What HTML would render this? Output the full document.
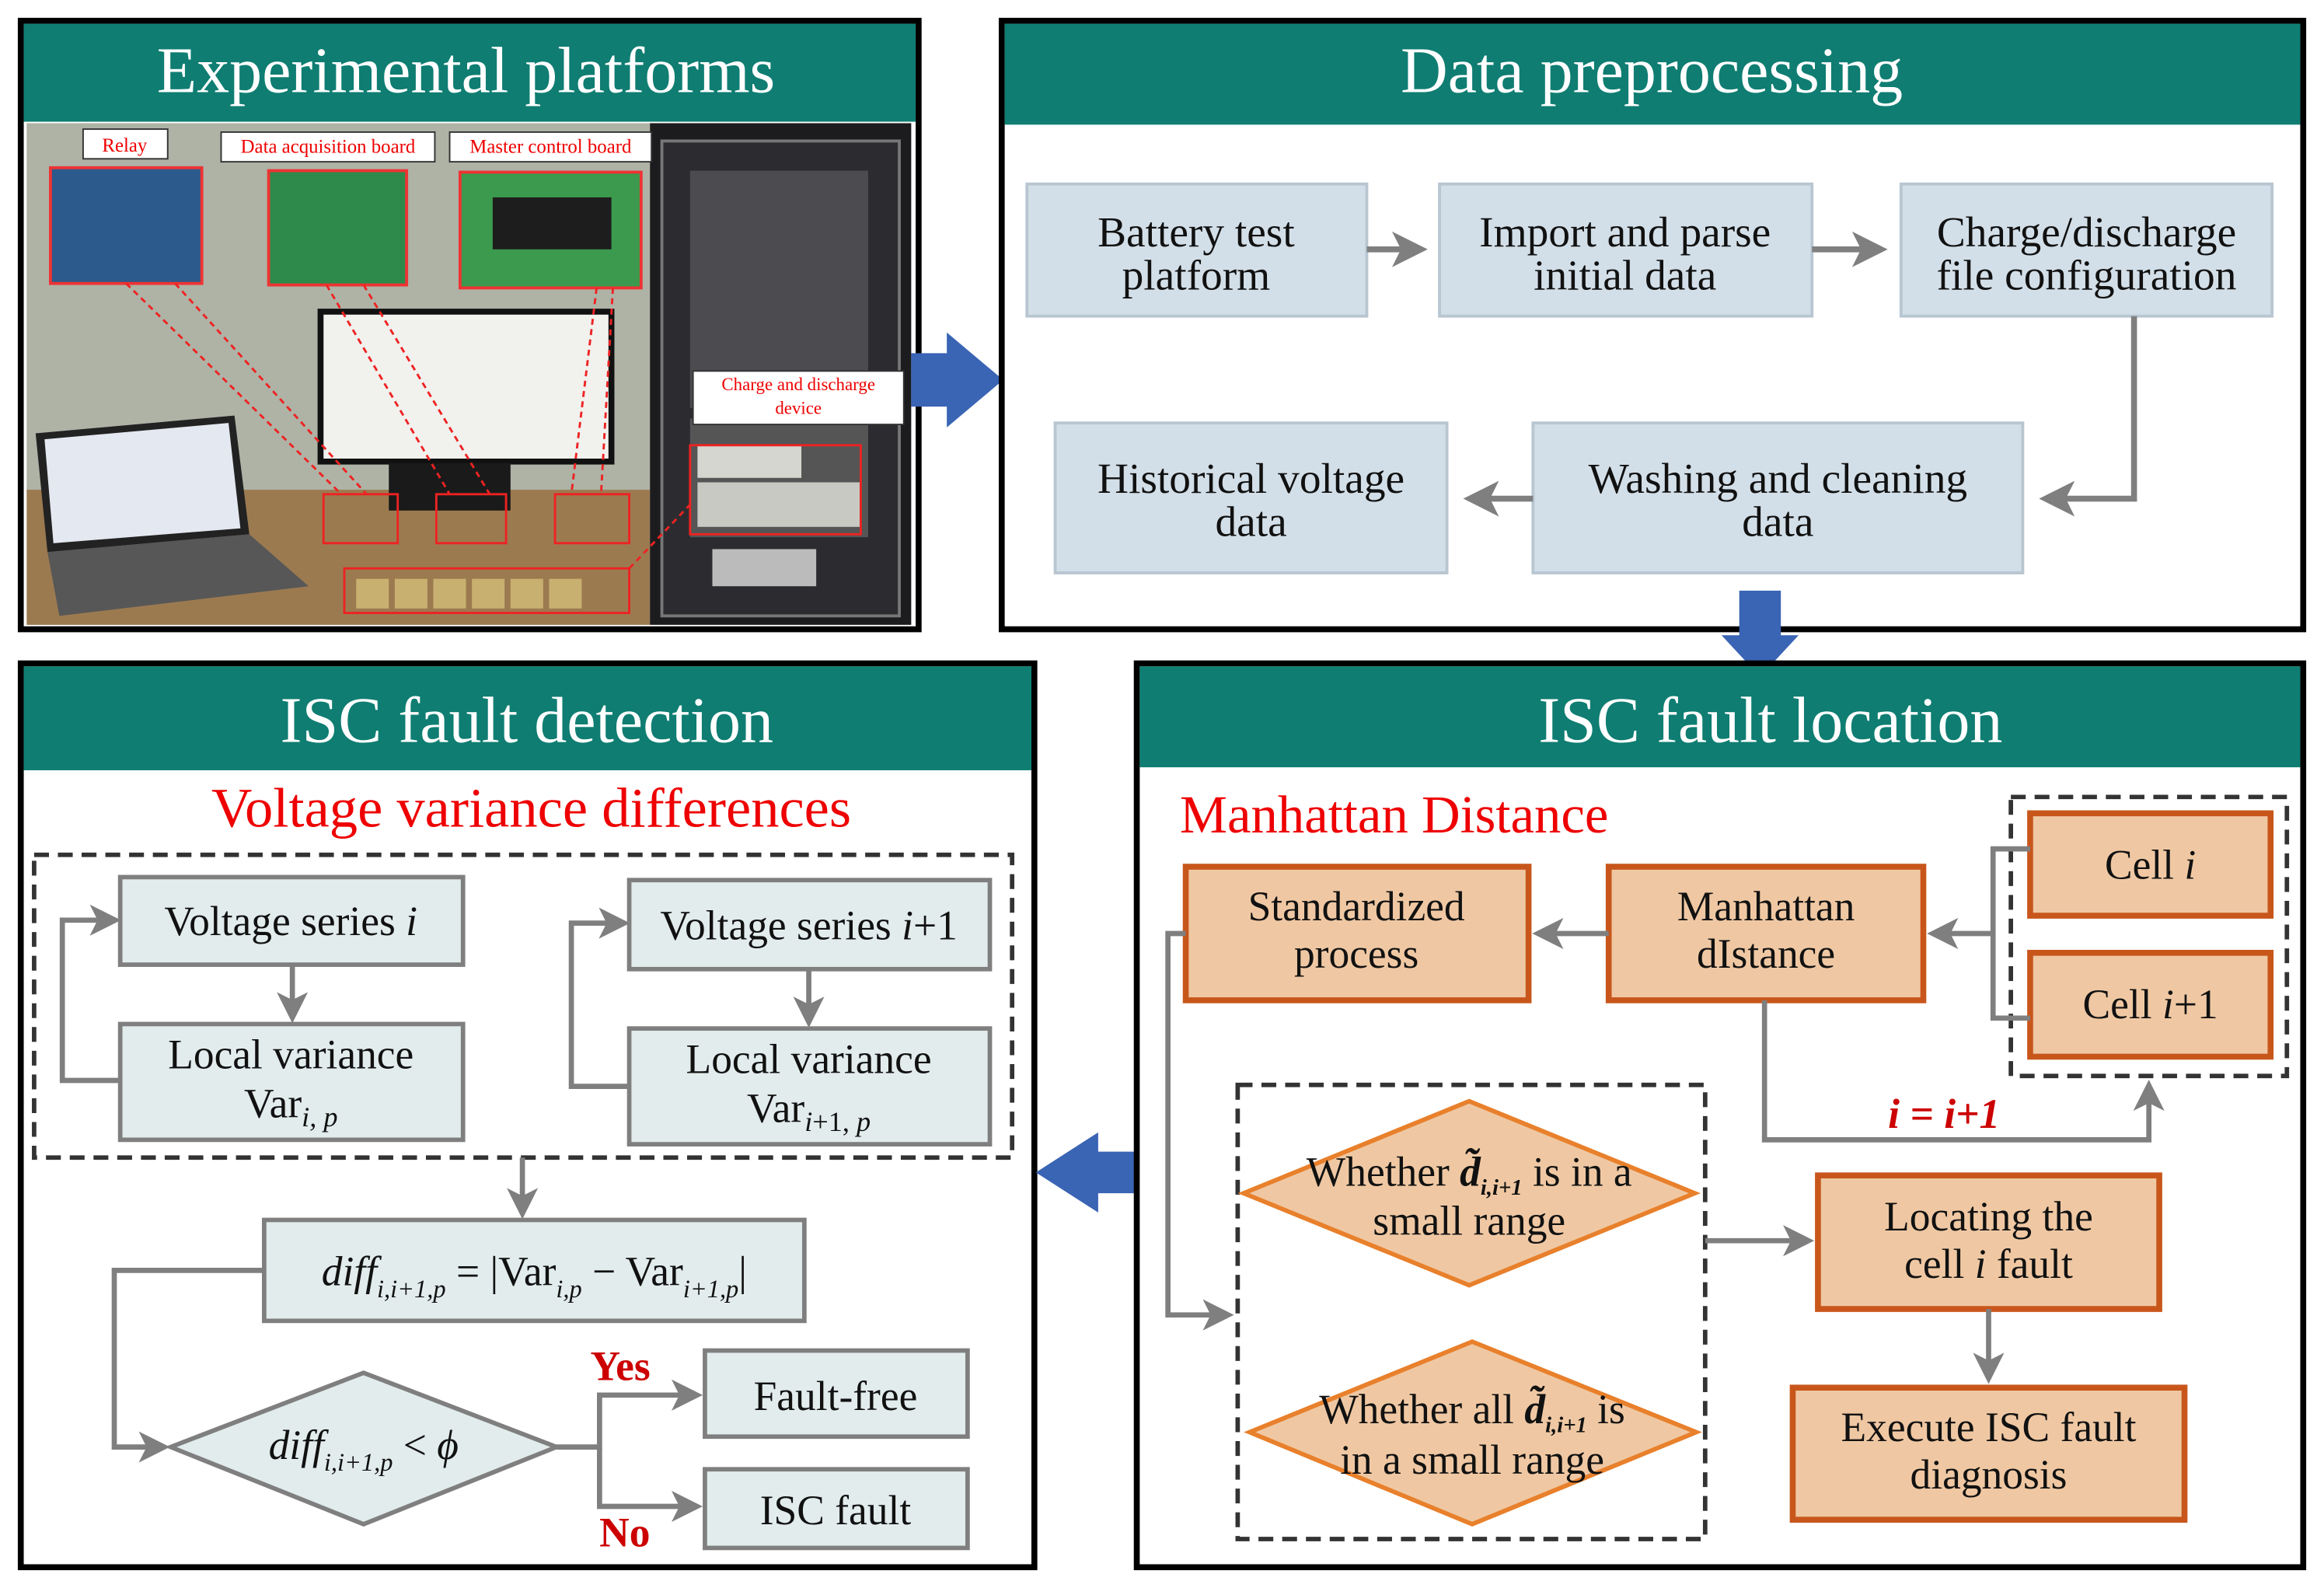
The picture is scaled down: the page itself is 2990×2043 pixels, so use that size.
<!DOCTYPE html>
<html><head><meta charset="utf-8"><style>
html,body{margin:0;padding:0;background:#fff}
svg{display:block;font-family:'Liberation Serif','DejaVu Serif',serif}
svg text{font-family:'Liberation Serif','DejaVu Serif',serif}
</style></head><body>
<svg width="2990" height="2043" viewBox="0 0 1566 1070" preserveAspectRatio="none" xmlns="http://www.w3.org/2000/svg" font-family="Liberation Serif, serif">
<defs>
<marker id="ag" markerWidth="6" markerHeight="6" refX="5" refY="3" orient="auto" markerUnits="strokeWidth"><path d="M0,0 L6,3 L0,6 L1.5,3 z" fill="#7f7f7f"/></marker>
</defs>
<rect width="1566" height="1070" fill="#fff"/>

<!-- Panel 1 -->
<rect x="14" y="14" width="605" height="410" fill="#fff" stroke="#000" stroke-width="4"/>
<rect x="16" y="16" width="601" height="66" fill="#0f7d72"/>
<text x="314" y="62" font-size="44" fill="#fff" text-anchor="middle" font-family="Liberation Serif, serif">Experimental platforms</text>
<!-- photo -->
<rect x="18" y="83" width="596" height="338" fill="#a9ad9f"/>
<rect x="18" y="83" width="420" height="250" fill="#aeb3a6"/>
<rect x="18" y="330" width="420" height="91" fill="#9c7a50"/>
<rect x="438" y="83" width="176" height="338" fill="#1c1c1e"/>
<rect x="446" y="95" width="160" height="320" fill="#2c2c30" stroke="#777" stroke-width="2"/>
<rect x="465" y="115" width="120" height="160" fill="#4b4b50"/>
<rect x="465" y="282" width="120" height="80" fill="#555"/>
<rect x="470" y="325" width="110" height="30" fill="#c9c9c4"/>
<rect x="470" y="300" width="70" height="22" fill="#d6d6d0"/>
<rect x="480" y="370" width="70" height="25" fill="#bbb"/>
<rect x="214" y="208" width="200" height="105" fill="#111"/>
<rect x="218" y="212" width="192" height="97" fill="#f1f1ee"/>
<rect x="262" y="312" width="82" height="32" fill="#1a1a1a"/>
<polygon points="24,292 158,280 168,360 32,372" fill="#222"/>
<polygon points="30,296 154,285 162,356 36,366" fill="#e4e8f0"/>
<polygon points="32,372 168,360 208,395 40,415" fill="#575757"/>
<rect x="34" y="113" width="102" height="78" fill="#2c5a8c" stroke="#e33" stroke-width="2"/>
<rect x="181" y="115" width="93" height="77" fill="#2d8a4a" stroke="#e33" stroke-width="2"/>
<rect x="310" y="116" width="122" height="78" fill="#3b9a4d" stroke="#e33" stroke-width="2"/>
<rect x="332" y="133" width="80" height="35" fill="#1d1d1d"/>
<g font-family="Liberation Serif, serif">
<rect x="56" y="87" width="57" height="20" fill="#fff" stroke="#333"/>
<text x="84" y="102" font-size="13" fill="#e00" text-anchor="middle">Relay</text>
<rect x="149" y="89" width="144" height="20" fill="#fff" stroke="#333"/>
<text x="221" y="103" font-size="13" fill="#e00" text-anchor="middle">Data acquisition board</text>
<rect x="303" y="89" width="136" height="20" fill="#fff" stroke="#333"/>
<text x="371" y="103" font-size="13" fill="#e00" text-anchor="middle">Master control board</text>
<rect x="467" y="250" width="142" height="36" fill="#fff" stroke="#333"/>
<text x="538" y="263" font-size="12" fill="#e00" text-anchor="middle">Charge and discharge</text>
<text x="538" y="279" font-size="12" fill="#e00" text-anchor="middle">device</text>
</g>
<g fill="none" stroke="#e22" stroke-width="1.5">
<rect x="218" y="333" width="50" height="33"/>
<rect x="294" y="333" width="47" height="33"/>
<rect x="374" y="333" width="50" height="33"/>
<rect x="232" y="383" width="192" height="30"/>
<rect x="465" y="300" width="115" height="60"/>
<g stroke-dasharray="4,3">
<line x1="85" y1="191" x2="230" y2="333"/><line x1="118" y1="191" x2="247" y2="333"/>
<line x1="220" y1="192" x2="303" y2="333"/><line x1="245" y1="192" x2="330" y2="333"/>
<line x1="402" y1="194" x2="385" y2="333"/><line x1="413" y1="194" x2="405" y2="333"/>
<line x1="424" y1="383" x2="465" y2="340"/></g>
</g>
<g fill="#c8b070"><rect x="240" y="390" width="22" height="20"/><rect x="266" y="390" width="22" height="20"/><rect x="292" y="390" width="22" height="20"/><rect x="318" y="390" width="22" height="20"/><rect x="344" y="390" width="22" height="20"/><rect x="370" y="390" width="22" height="20"/></g>

<polygon points="614,238 638,238 638,224 676,256 638,288 638,274 614,274" fill="#3a64b4"/>

<g font-family="Liberation Serif, serif">
<!-- Panel 2 -->
<rect x="675" y="14" width="877" height="410" fill="#fff" stroke="#000" stroke-width="4"/>
<rect x="677" y="16" width="873" height="68" fill="#0f7d72"/>
<text x="1113" y="62" font-size="44" fill="#fff" text-anchor="middle">Data preprocessing</text>
<g fill="#d3dfe8" stroke="#b8c6d2" stroke-width="2">
<rect x="692" y="124" width="229" height="89"/>
<rect x="970" y="124" width="251" height="89"/>
<rect x="1281" y="124" width="250" height="89"/>
<rect x="711" y="285" width="264" height="101"/>
<rect x="1033" y="285" width="330" height="101"/>
</g>
<g font-size="29" fill="#111" text-anchor="middle">
<text x="806" y="166">Battery test</text><text x="806" y="195">platform</text>
<text x="1095" y="166">Import and parse</text><text x="1095" y="195">initial data</text>
<text x="1406" y="166">Charge/discharge</text><text x="1406" y="195">file configuration</text>
<text x="843" y="332">Historical voltage</text><text x="843" y="361">data</text>
<text x="1198" y="332">Washing and cleaning</text><text x="1198" y="361">data</text>
</g>
<g fill="none" stroke="#7f7f7f" stroke-width="4" marker-end="url(#ag)">
<line x1="921" y1="168" x2="958" y2="168"/>
<line x1="1221" y1="168" x2="1268" y2="168"/>
<polyline points="1438,213 1438,336 1378,336"/>
<line x1="1033" y1="336" x2="990" y2="336"/>
</g>

<polygon points="1172,398 1200,398 1200,428 1212,428 1186,456 1160,428 1172,428" fill="#3a64b4"/>

<!-- Panel 3 -->
<rect x="14" y="447" width="683" height="609" fill="#fff" stroke="#000" stroke-width="4"/>
<rect x="16" y="449" width="679" height="70" fill="#0f7d72"/>
<text x="355" y="500" font-size="44" fill="#fff" text-anchor="middle">ISC fault detection</text>
<text x="358" y="557" font-size="38" fill="#e00" text-anchor="middle">Voltage variance differences</text>
<rect x="23" y="576" width="659" height="204" fill="none" stroke="#333" stroke-width="3" stroke-dasharray="10,6"/>
<g fill="#e2ecec" stroke="#7f7f7f" stroke-width="3">
<rect x="81" y="591" width="231" height="59"/>
<rect x="81" y="690" width="231" height="78"/>
<rect x="424" y="593" width="243" height="60"/>
<rect x="424" y="693" width="243" height="78"/>
<rect x="178" y="822" width="364" height="68"/>
<polygon points="115,975 245,925 375,975 245,1027"/>
<rect x="475" y="910" width="177" height="58"/>
<rect x="475" y="990" width="177" height="53"/>
</g>
<g font-size="28" fill="#111" text-anchor="middle">
<text x="196" y="630">Voltage series <tspan font-style="italic">i</tspan></text>
<text x="196" y="720">Local variance</text>
<text x="196" y="753">Var<tspan font-size="19" font-style="italic" dy="6">i, p</tspan></text>
<text x="545" y="633">Voltage series <tspan font-style="italic">i</tspan>+1</text>
<text x="545" y="723">Local variance</text>
<text x="545" y="756">Var<tspan font-size="19" dy="6"><tspan font-style="italic">i</tspan>+1, <tspan font-style="italic">p</tspan></tspan></text>
<text x="360" y="866"><tspan font-style="italic">diff</tspan><tspan font-size="17" font-style="italic" dy="8">i,i+1,p</tspan><tspan dy="-8"> = |Var</tspan><tspan font-size="17" font-style="italic" dy="8">i,p</tspan><tspan dy="-8"> − Var</tspan><tspan font-size="17" font-style="italic" dy="8">i+1,p</tspan><tspan dy="-8">|</tspan></text>
<text x="245" y="983"><tspan font-style="italic">diff</tspan><tspan font-size="17" font-style="italic" dy="8">i,i+1,p</tspan><tspan dy="-8"> &lt; </tspan><tspan font-style="italic">ϕ</tspan></text>
<text x="563" y="950">Fault-free</text>
<text x="563" y="1027">ISC fault</text>
</g>
<text x="418" y="930" font-size="28" font-weight="bold" fill="#c00" text-anchor="middle">Yes</text>
<text x="421" y="1042" font-size="28" font-weight="bold" fill="#c00" text-anchor="middle">No</text>
<g fill="none" stroke="#7f7f7f" stroke-width="3.5" marker-end="url(#ag)">
<polyline points="81,728 42,728 42,620 78,620"/>
<polyline points="424,732 385,732 385,622 421,622"/>
<line x1="197" y1="650" x2="197" y2="686"/>
<line x1="545" y1="653" x2="545" y2="689"/>
<line x1="352" y1="780" x2="352" y2="818"/>
<polyline points="178,856 77,856 77,975 111,975"/>
<polyline points="375,975 404,975 404,940 470,940"/>
<polyline points="404,975 404,1015 470,1015"/>
</g>

<polygon points="768,776 740,776 740,763 698,790 740,817 740,804 768,804" fill="#3a64b4"/>

<!-- Panel 4 -->
<rect x="766" y="447" width="786" height="609" fill="#fff" stroke="#000" stroke-width="4"/>
<rect x="768" y="449" width="782" height="68" fill="#0f7d72"/>
<text x="1193" y="500" font-size="44" fill="#fff" text-anchor="middle">ISC fault location</text>
<text x="795" y="561" font-size="36" fill="#e00">Manhattan Distance</text>
<rect x="1355" y="537" width="186" height="188" fill="none" stroke="#333" stroke-width="3" stroke-dasharray="10,6"/>
<rect x="834" y="731" width="315" height="306" fill="none" stroke="#333" stroke-width="3" stroke-dasharray="10,6"/>
<g fill="#efc8a3" stroke="#c8561b" stroke-width="4">
<rect x="1368" y="548" width="162" height="69"/>
<rect x="1368" y="642" width="162" height="70"/>
<rect x="1084" y="584" width="212" height="90"/>
<rect x="799" y="584" width="231" height="90"/>
<rect x="1225" y="792" width="230" height="90"/>
<rect x="1208" y="935" width="264" height="89"/>
</g>
<g fill="#efc8a3" stroke="#e8802c" stroke-width="3">
<polygon points="838,804 990,742 1142,804 990,866"/>
<polygon points="842,965 992,904 1143,965 992,1027"/>
</g>
<g font-size="28" fill="#111" text-anchor="middle">
<text x="1449" y="592">Cell <tspan font-style="italic">i</tspan></text>
<text x="1449" y="686">Cell <tspan font-style="italic">i</tspan>+1</text>
<text x="1190" y="620">Manhattan</text><text x="1190" y="652">dIstance</text>
<text x="914" y="620">Standardized</text><text x="914" y="652">process</text>
<text x="1340" y="829">Locating  the</text><text x="1340" y="861">cell <tspan font-style="italic">i</tspan> fault</text>
<text x="1340" y="971">Execute ISC fault</text><text x="1340" y="1003">diagnosis</text>
<text x="990" y="799">Whether <tspan font-weight="bold" font-style="italic">d̃</tspan><tspan font-size="15" font-style="italic" font-weight="bold" dy="6">i,i+1</tspan><tspan dy="-6"> is in a</tspan></text>
<text x="990" y="832">small range</text>
<text x="992" y="959">Whether all <tspan font-weight="bold" font-style="italic">d̃</tspan><tspan font-size="15" font-style="italic" font-weight="bold" dy="6">i,i+1</tspan><tspan dy="-6"> is</tspan></text>
<text x="992" y="993">in a small range</text>
</g>
<text x="1310" y="760" font-size="28" font-weight="bold" font-style="italic" fill="#c00" text-anchor="middle">i = i+1</text>
</g>
<g fill="none" stroke="#7f7f7f" stroke-width="3.5">
<polyline points="1368,572 1343,572 1343,686 1368,686"/>
</g>
<g fill="none" stroke="#7f7f7f" stroke-width="3.5" marker-end="url(#ag)">
<line x1="1343" y1="629" x2="1302" y2="629"/>
<line x1="1084" y1="629" x2="1036" y2="629"/>
<polyline points="1189,674 1189,768 1448,768 1448,731"/>
<polyline points="799,629 787,629 787,886 828,886"/>
<line x1="1149" y1="836" x2="1219" y2="836"/>
<line x1="1340" y1="882" x2="1340" y2="929"/>
</g>
</svg>
</body></html>
